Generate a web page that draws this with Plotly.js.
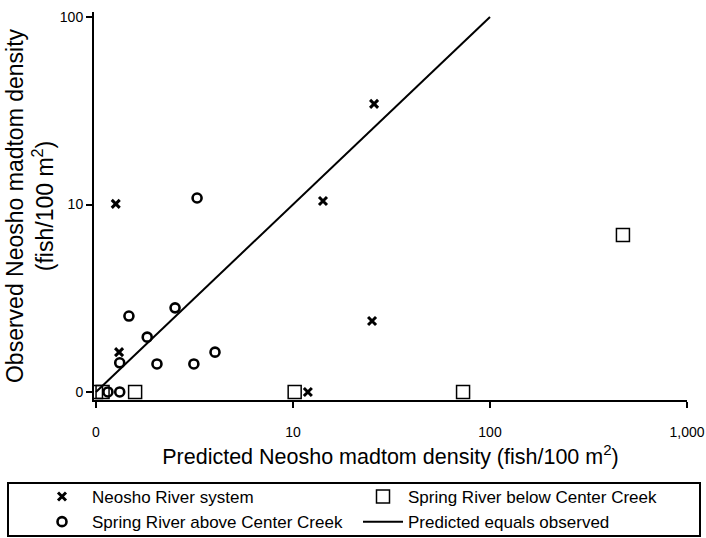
<!DOCTYPE html>
<html>
<head>
<meta charset="utf-8">
<script src="https://cdn.plot.ly/plotly-3.0.1.min.js"></script>
<style>html,body{margin:0;padding:0;background:#fff;}#chart{width:706px;height:538px;}</style>
</head>
<body>
<div id="chart"></div>
<script>
// Densities (fish/100 m^2)
const neoshoPredicted = [0.26, 0.31, 13.2, 24.8, 24.2, 10.9];
const neoshoObserved  = [9.07, 0.63, 9.44, 33.4, 1.39, 0];

const aboveCCPredicted = [2.26, 0.47, 1.52, 0.82, 0.32, 1.04, 2.14, 3.02, 0.15, 0.32];
const aboveCCObserved  = [9.83, 1.54, 1.81, 0.96, 0.43, 0.41, 0.41, 0.63, 0, 0];

const belowCCPredicted = [472, 72, 9.2, 0.58, 0, 0.08];
const belowCCObserved  = [5.88, 0, 0, 0, 0, 0];

const linePredicted = [0, 99];
const lineObserved  = [0, 99];

const xTickValues = [0, 10, 100, 1000];
const xTickLabels = ['0', '10', '100', '1,000'];
const yTickValues = [0, 10, 100];
const yTickLabels = ['0', '10', '100'];

const seriesNames = ['Neosho River system', 'Spring River above Center Creek',
                     'Spring River below Center Creek', 'Predicted equals observed'];

// axis is a log scale of (density + 1), zero plotted at 1, decades at 10, 100, 1000
const shift = v => v + 1;
const tickPos = v => (v === 0 ? 1 : v);

const FONT = 'Liberation Sans, Arial, Helvetica, sans-serif';

const traces = [
  {
    x: neoshoPredicted.map(shift), y: neoshoObserved.map(shift),
    type: 'scatter', mode: 'markers', name: seriesNames[0], legend: 'legend',
    marker: {symbol: 'x-thin', size: 8, color: '#000', line: {color: '#000', width: 3}}
  },
  {
    x: aboveCCPredicted.map(shift), y: aboveCCObserved.map(shift),
    type: 'scatter', mode: 'markers', name: seriesNames[1], legend: 'legend',
    marker: {symbol: 'circle-open', size: 9, color: '#000', line: {color: '#000', width: 2.6}}
  },
  {
    x: belowCCPredicted.map(shift), y: belowCCObserved.map(shift),
    type: 'scatter', mode: 'markers', name: seriesNames[2], legend: 'legend2',
    marker: {symbol: 'square-open', size: 13, color: '#000', line: {color: '#000', width: 1.5}}
  },
  {
    x: linePredicted.map(shift), y: lineObserved.map(shift),
    type: 'scatter', mode: 'lines', name: seriesNames[3], legend: 'legend2',
    line: {color: '#000', width: 2}
  }
];

const axisCommon = {
  type: 'log', showgrid: false, zeroline: false, showline: true,
  linecolor: '#000', linewidth: 2, ticks: 'outside', ticklen: 6, tickwidth: 2,
  tickcolor: '#000', tickmode: 'array', fixedrange: true,
  tickfont: {family: FONT, size: 14, color: '#000'}
};

const layout = {
  width: 706, height: 538,
  margin: {l: 94, r: 19, t: 12, b: 138, autoexpand: false},
  paper_bgcolor: '#fff', plot_bgcolor: '#fff',
  font: {family: FONT, color: '#000'},
  xaxis: Object.assign({}, axisCommon, {
    range: [-0.01, 3.0],
    tickvals: xTickValues.map(tickPos), ticktext: xTickLabels,
    ticklabelstandoff: 12,
    title: {text: 'Predicted Neosho madtom density (fish/100 m<sup>2</sup>)',
            font: {family: FONT, size: 21.5, color: '#000'}, standoff: 10}
  }),
  yaxis: Object.assign({}, axisCommon, {
    range: [-0.043, 2.027],
    tickvals: yTickValues.map(tickPos), ticktext: yTickLabels,
    title: {text: 'Observed Neosho madtom density<br>(fish/100 m<sup>2</sup>)',
            font: {family: FONT, size: 23, color: '#000'}, standoff: 0}
  }),
  legend: {
    x: (32 - 94) / 593, y: (400 - 479) / 388, xanchor: 'left', yanchor: 'top',
    xref: 'paper', yref: 'paper', orientation: 'v',
    itemwidth: 50, bgcolor: 'rgba(0,0,0,0)', borderwidth: 0,
    font: {family: FONT, size: 17, color: '#000'}
  },
  legend2: {
    x: (358 - 94) / 593, y: (400 - 479) / 388, xanchor: 'left', yanchor: 'top',
    xref: 'paper', yref: 'paper', orientation: 'v',
    itemwidth: 40, bgcolor: 'rgba(0,0,0,0)', borderwidth: 0,
    font: {family: FONT, size: 17, color: '#000'}
  },
  shapes: [{
    type: 'rect', xref: 'paper', yref: 'paper',
    x0: (8 - 94) / 593, x1: (700 - 94) / 593,
    y0: (400 - 483) / 388, y1: (400 - 536) / 388,
    line: {color: '#000', width: 2}, fillcolor: 'rgba(0,0,0,0)'
  }],
  showlegend: true
};

Plotly.newPlot('chart', traces, layout, {staticPlot: true, displayModeBar: false});
</script>
</body>
</html>
